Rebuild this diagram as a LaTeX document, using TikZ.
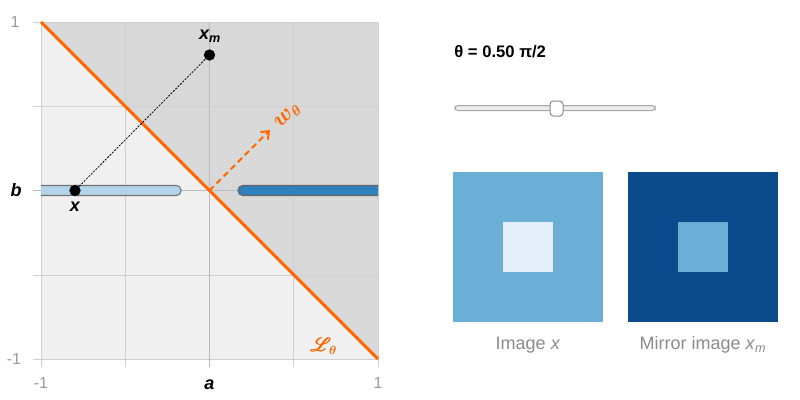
\documentclass[tikz,border=0pt]{standalone}
\usepackage{amsmath}
\usepackage{mathrsfs}
\usepackage{fontspec}
\setmainfont{Liberation Sans}
\usetikzlibrary{arrows.meta}
\definecolor{bglight}{HTML}{F0F0F0}
\definecolor{bgdark}{HTML}{D8D8D8}
\definecolor{gridc}{HTML}{D0D0D0}
\definecolor{axc}{HTML}{BBBBBB}
\definecolor{orng}{HTML}{FF6600}
\definecolor{barlight}{HTML}{B3D3EA}
\definecolor{bardark}{HTML}{3080BD}
\definecolor{imgmid}{HTML}{6BAED6}
\definecolor{imglight}{HTML}{E3EEF8}
\definecolor{imgdark}{HTML}{0B4A8C}
\definecolor{ticktxt}{HTML}{999999}
\tikzset{
  tick/.style={font=\fontsize{12}{14}\selectfont, text=ticktxt, inner sep=0pt},
  axlab/.style={font=\fontsize{13.5}{15}\selectfont\bfseries\itshape, inner sep=0pt},
  caption/.style={font=\fontsize{13.5}{15}\selectfont, text=ticktxt!90!black, inner sep=0pt},
  gridline/.style={draw=gridc, line width=0.75pt},
  pt/.style={circle, fill=black, inner sep=0pt, minimum size=8.5pt},
  mlab/.style={text=orng, inner sep=0pt, font=\fontsize{16}{18}\selectfont}
}
\begin{document}
\begin{tikzpicture}[x=0.75pt, y=-0.75pt]
\useasboundingbox (0,0) rectangle (800,400);
% plot background
\fill[bglight] (41,22) rectangle (378,359);
\fill[bgdark] (41,22) -- (378,22) -- (378,359) -- cycle;
% grid
\foreach \gx in {125,293} \draw[gridline] (\gx,22) -- (\gx,367);
\foreach \gy in {106,275} \draw[gridline] (33,\gy) -- (378,\gy);
\draw[gridline] (41,22) -- (41,367);
\draw[gridline] (33,22) -- (378,22);
\draw[gridline] (33,359) -- (378,359);
\draw[gridline] (378,22) -- (378,367);
\draw[draw=axc, line width=0.75pt] (209.5,22) -- (209.5,367);
\draw[draw=axc, line width=0.75pt] (33,190.5) -- (378,190.5);
% bars
\begin{scope}
\clip (41,22) rectangle (378,359);
\draw[fill=barlight, draw=black!55, line width=0.8pt, rounded corners=3.5pt] (30,185.5) rectangle (181,195.5);
\draw[fill=bardark, draw=black!60, line width=0.8pt, rounded corners=3.5pt] (238,185.5) rectangle (390,195.5);
\end{scope}
% separating line
\coordinate (tl) at (41,22);
\coordinate (br) at (378,359);
\coordinate (o) at (209.5,190.5);
\draw[orng, line width=2.2pt] (tl) -- (br);
% points
\node[pt] (x) at (75,190.5) {};
\node[pt] (xm) at (209.5,55) {};
\draw[dash pattern=on 1.5pt off 1pt, line width=0.6pt] (x) -- (xm);
% w arrow
\coordinate (wend) at (270,130);
\draw[orng, line width=1.5pt, dash pattern=on 4.5pt off 3pt, -{Straight Barb[length=5pt,width=8pt]}] (o) -- (wend);
\node[mlab, rotate=45] (wl) at (288,116) {$\boldsymbol{w}_{\boldsymbol{\theta}}$};
% labels
\node[axlab] (xml) at (210,36) {x\textsubscript{m}};
\node[axlab] (xl) at (75,207) {x};
\node[axlab] (bl) at (16,190) {b};
\node[axlab] (al) at (209.5,385) {a};
\node[mlab, font=\fontsize{13.5}{15}\selectfont] (Ll) at (324,346) {$\pmb{\mathscr{L}}_{\!\boldsymbol{\theta}}$};
% ticks
\node[tick] (t1) at (15,22) {1};
\node[tick] (t2) at (14,359) {-1};
\node[tick] (t3) at (41,383) {-1};
\node[tick] (t4) at (378,383) {1};
% right side
\node[anchor=west, inner sep=0pt, font=\fontsize{12.5}{15}\selectfont\bfseries] (theta) at (454,52) {θ = 0.50 π/2};
\draw[fill=black!7, draw=black!35, line width=0.75pt, rounded corners=2.2pt] (455,105.5) rectangle (655,110.5);
\draw[fill=white, draw=black!45, line width=0.75pt, rounded corners=2.5pt] (550,101) rectangle (563,116);
% images
\fill[imgmid] (453,172) rectangle (603,322);
\fill[imglight] (503,222) rectangle (553,272);
\fill[imgdark] (628,172) rectangle (778,322);
\fill[imgmid] (678,222) rectangle (728,272);
\node[caption] (c1) at (528,345) {Image \textit{x}};
\node[caption] (c2) at (703,345) {Mirror image \textit{x}\textsubscript{\textit{m}}};
\end{tikzpicture}
\end{document}
